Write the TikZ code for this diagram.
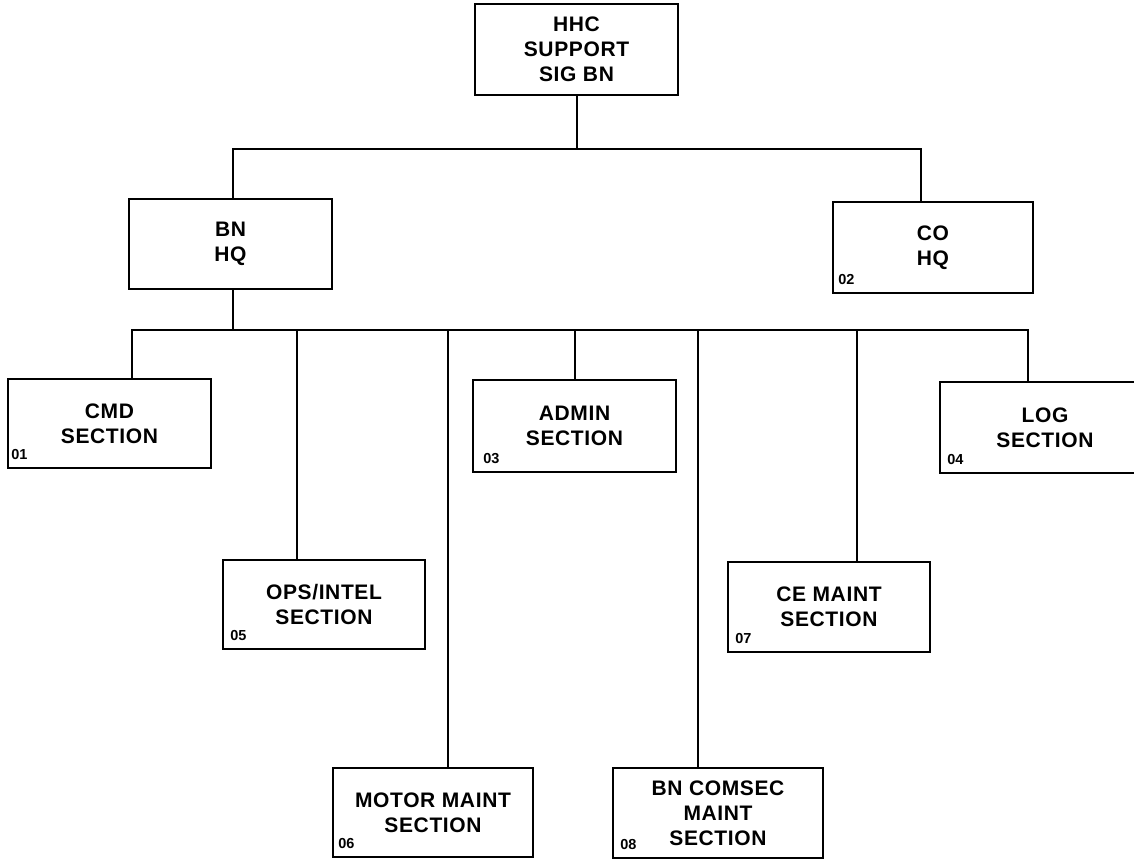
\documentclass[tikz,border=0pt]{standalone}
\usepackage{fontspec}
\setmainfont{Liberation Sans}
\begin{document}
\begin{tikzpicture}[x=1pt,y=-1pt,
  unit/.style={draw=black,line width=1.6pt,fill=white,align=center,inner sep=0pt,
    font=\bfseries\addfontfeatures{LetterSpace=3}\fontsize{21}{25}\selectfont},
  code/.style={anchor=base west,inner sep=0pt,font=\bfseries\fontsize{14.5}{16}\selectfont},
  link/.style={line width=1.6pt,line cap=rect}]
\useasboundingbox (0,0) rectangle (1134,859);
\clip (0,0) rectangle (1134,859);

% organisational units
\node[unit,minimum width=203pt,minimum height=91pt] (hhc)  at (576.5,49.5) {HHC\\SUPPORT\\SIG BN};
\node[unit,minimum width=203pt,minimum height=90pt] (bnhq) at (230.5,244)  {BN\\HQ};
\node[unit,minimum width=200pt,minimum height=91pt] (cohq) at (933,247.5)  {CO\\HQ};
\node[unit,minimum width=203pt,minimum height=89pt] (cmd)  at (109.5,423.5){CMD\\SECTION};
\node[unit,minimum width=203pt,minimum height=92pt] (adm)  at (574.5,426)  {ADMIN\\SECTION};
\node[unit,minimum width=210pt,minimum height=91pt] (log)  at (1045,427.5) {LOG\\SECTION};
\node[unit,minimum width=202pt,minimum height=89pt] (ops)  at (324,604.5)  {OPS/INTEL\\SECTION};
\node[unit,minimum width=202pt,minimum height=90pt] (ce)   at (829,607)    {CE MAINT\\SECTION};
\node[unit,minimum width=200pt,minimum height=89pt] (mot)  at (433,812.5)  {MOTOR MAINT\\SECTION};
\node[unit,minimum width=210pt,minimum height=90pt] (com)  at (718,813)    {BN COMSEC\\MAINT\\SECTION};

% unit codes
\node[code] (c01) at ([shift={(4,-9)}]cmd.south west) {01};
\node[code] (c02) at ([shift={(6,-9)}]cohq.south west) {02};
\node[code] (c03) at ([shift={(11,-9)}]adm.south west) {03};
\node[code] (c04) at ([shift={(8,-9)}]log.south west) {04};
\node[code] (c05) at ([shift={(8,-9)}]ops.south west) {05};
\node[code] (c06) at ([shift={(6,-9)}]mot.south west) {06};
\node[code] (c07) at ([shift={(8,-9)}]ce.south west) {07};
\node[code] (c08) at ([shift={(8,-9)}]com.south west) {08};

% branch points
\coordinate (top)  at (577,149);
\coordinate (tl)   at (233,149);
\coordinate (tr)   at (921,149);
\coordinate (bus)  at (233,330);
\coordinate (b1) at (132,330);
\coordinate (b2) at (297,330);
\coordinate (b3) at (448,330);
\coordinate (b4) at (575,330);
\coordinate (b5) at (698,330);
\coordinate (b6) at (857,330);
\coordinate (b7) at (1028,330);

% upper level
\draw[link] (hhc.south -| top) -- (top);
\draw[link] (tl |- bnhq.north) -- (tl) -- (tr) -- (tr |- cohq.north);

% section bus
\draw[link] (bnhq.south -| bus) -- (bus);
\draw[link] (b1) -- (b7);
\draw[link] (b1) -- (b1 |- cmd.north);
\draw[link] (b2) -- (b2 |- ops.north);
\draw[link] (b3) -- (b3 |- mot.north);
\draw[link] (b4) -- (b4 |- adm.north);
\draw[link] (b5) -- (b5 |- com.north);
\draw[link] (b6) -- (b6 |- ce.north);
\draw[link] (b7) -- (b7 |- log.north);
\end{tikzpicture}
\end{document}
